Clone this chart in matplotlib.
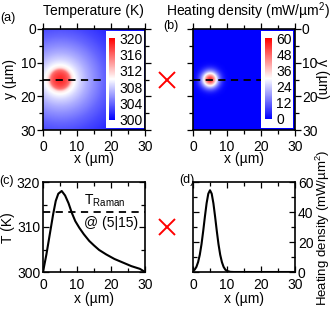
import numpy as np
import matplotlib
matplotlib.use("Agg")
import matplotlib.pyplot as plt
from matplotlib.lines import Line2D
from matplotlib.patches import Rectangle
from matplotlib.ticker import MultipleLocator

plt.rcParams['font.family'] = ['Liberation Sans', 'DejaVu Sans']
plt.rcParams['mathtext.fontset'] = 'custom'
plt.rcParams['mathtext.rm'] = 'Liberation Sans'
plt.rcParams['mathtext.it'] = 'Liberation Sans:italic'

# line cut at y = 15 um through the hot spot
x_temp = [0, 1, 2, 3, 3.75, 4.5, 5.5, 6.5, 7.5, 8.5, 9.5, 10.7, 12, 13.6,
          15, 16.5, 18.6, 21, 23.5, 26, 28.5, 30]
temp = [300, 303.9, 308.4, 312.9, 315.8, 317.4, 318.0, 317.0, 315.3, 313.1,
        311.3, 309.8, 308.4, 306.9, 305.9, 304.9, 303.9, 302.9, 302.1,
        301.3, 300.7, 300.0]
t_raman = 313.3

# temperature map, read as a function of distance from the spot (panel a colours)
r_tmap = [0, 1, 2, 2.8, 3.2, 3.6, 4.5, 6, 8, 10, 13, 16, 20, 25, 45]
t_tmap = [318.5, 318.0, 317.0, 315.5, 313.0, 311.0, 309.8, 308.3, 306.8,
          305.6, 304.0, 302.8, 301.6, 300.6, 300.0]

# heating density line cut (panel d)
x_heat = [0, 0.5, 1, 1.5, 2, 2.5, 3, 3.5, 4, 4.5, 5, 5.5, 6, 6.5, 7, 7.5,
          8, 8.5, 9, 9.5, 10, 11, 12, 30]
heat = [0.7, 1.6, 3.4, 6.6, 11.5, 18.5, 27.3, 36.9, 45.8, 52.2, 54.5, 52.2,
        45.8, 36.9, 27.3, 18.5, 11.5, 6.6, 3.4, 1.6, 0.7, 0.1, 0, 0]

spot = (5, 15)
temp_ticks = [300, 304, 308, 312, 316, 320]
heat_ticks = [0, 12, 24, 36, 48, 60]

W, H = 332, 309
fig = plt.figure(figsize=(W / 100, H / 100), dpi=100)


def box(l, t, w, h):
    return [l / W, 1 - (t + h) / H, w / W, h / H]


def fig_text(x, y, s, **kw):
    fig.text(x / W, 1 - y / H, s, ha='center', va='center', **kw)


# 2d maps built from the radial profiles
g = np.linspace(0, 30, 301)
gx, gy = np.meshgrid(g, g)
r = np.hypot(gx - spot[0], gy - spot[1])
t_map = np.interp(r, r_tmap, t_tmap)
h_map = np.interp(spot[0] + r, x_heat, heat)


def map_panel(rect, data, vmin, vmax, ticks, cb_box, cb_rect, right):
    ax = fig.add_axes(box(*rect))
    ax.imshow(data, cmap='bwr', vmin=vmin, vmax=vmax, extent=[0, 30, 30, 0],
              interpolation='bilinear', aspect='auto')
    ax.plot([0, 30], [spot[1], spot[1]], 'k--', lw=1.3, dashes=(4, 3), zorder=3)
    ax.add_patch(Rectangle(cb_box[:2], cb_box[2], cb_box[3], transform=ax.transAxes,
                           facecolor='white', edgecolor='none', zorder=4))
    ax.set_xlim(0, 30)
    ax.set_ylim(30, 0)
    ax.xaxis.set_major_locator(MultipleLocator(10))
    ax.xaxis.set_minor_locator(MultipleLocator(5))
    ax.yaxis.set_major_locator(MultipleLocator(10))
    ax.yaxis.set_minor_locator(MultipleLocator(5))
    ax.tick_params(which='both', direction='out', top=True, right=True, width=0.9,
                   labelsize=10, labelleft=not right, labelright=right)
    ax.tick_params(which='major', length=4)
    ax.tick_params(which='minor', length=3)
    ax.tick_params(axis='x', pad=3)
    ax.tick_params(axis='y', pad=1)
    for s in ax.spines.values():
        s.set_linewidth(1.2)
    cax = ax.inset_axes(cb_rect)
    cax.set_zorder(5)
    cb = fig.colorbar(ax.images[0], cax=cax, ticks=ticks)
    cb.outline.set_visible(False)
    cax.tick_params(length=0, labelsize=10, pad=3)
    return ax


map_panel((43, 29, 102, 101), t_map, 300, 320, temp_ticks,
          (0.62, 0.02, 0.37, 0.96), (0.645, 0.10, 0.06, 0.81), False)
map_panel((193, 29, 102, 101), h_map, 0, 60, heat_ticks,
          (0.67, 0.02, 0.31, 0.96), (0.705, 0.11, 0.07, 0.80), True)


def line_panel(rect, right):
    ax = fig.add_axes(box(*rect))
    ax.set_xlim(0, 30)
    ax.xaxis.set_major_locator(MultipleLocator(10))
    ax.xaxis.set_minor_locator(MultipleLocator(5))
    ax.tick_params(which='both', direction='in', top=True, right=True, width=0.9,
                   labelsize=10, labelleft=not right, labelright=right)
    ax.tick_params(which='major', length=4)
    ax.tick_params(which='minor', length=3)
    ax.tick_params(axis='x', pad=4)
    ax.tick_params(axis='y', pad=2)
    for s in ax.spines.values():
        s.set_linewidth(1.2)
    return ax


ax_c = line_panel((43, 182, 102, 90), False)
ax_c.plot(x_temp, temp, color='k', lw=1.5)
ax_c.axhline(t_raman, color='k', ls='--', lw=1.3, dashes=(4, 3))
ax_c.set_ylim(300, 320)
ax_c.yaxis.set_major_locator(MultipleLocator(10))
ax_c.yaxis.set_minor_locator(MultipleLocator(5))
ax_c.text(12, 315.9, r'T$_{\mathrm{Raman}}$', fontsize=10, va='center')
ax_c.text(12, 311.0, '@ (5|15)', fontsize=10, va='center')

ax_d = line_panel((193, 182, 102, 90), True)
ax_d.plot(x_heat, heat, color='k', lw=1.5)
ax_d.set_ylim(0, 60)
ax_d.yaxis.set_major_locator(MultipleLocator(20))
ax_d.yaxis.set_minor_locator(MultipleLocator(10))

# titles, axis labels, panel letters
fig_text(93, 11, 'Temperature (K)', fontsize=10)
fig.text(166 / W, 1 - 11 / H, 'Heating density (mW/µm$^2$)', ha='left', va='center', fontsize=10)
fig_text(94, 159, 'x (µm)', fontsize=10)
fig_text(244, 159, 'x (µm)', fontsize=10)
fig_text(94, 299, 'x (µm)', fontsize=10)
fig_text(244, 299, 'x (µm)', fontsize=10)
fig_text(10, 79, 'y (µm)', fontsize=10, rotation=90)
fig_text(322, 79, 'y (µm)', fontsize=10, rotation=-90)
fig_text(8, 228, 'T (K)', fontsize=10, rotation=90)
fig_text(323, 228, 'Heating density (mW/µm$^2$)', fontsize=9.5, rotation=90)
fig_text(8, 18, '(a)', fontsize=9)
fig_text(171, 26, '(b)', fontsize=9)
fig_text(7, 181, '(c)', fontsize=9)
fig_text(187, 180, '(d)', fontsize=9)

# red crosses between the columns
for yc in (80, 227):
    fig.add_artist(Line2D([167 / W], [1 - yc / H], marker='x', ms=11, mew=1.4,
                          color='red', transform=fig.transFigure))

fig.savefig('out.png', dpi=100)
